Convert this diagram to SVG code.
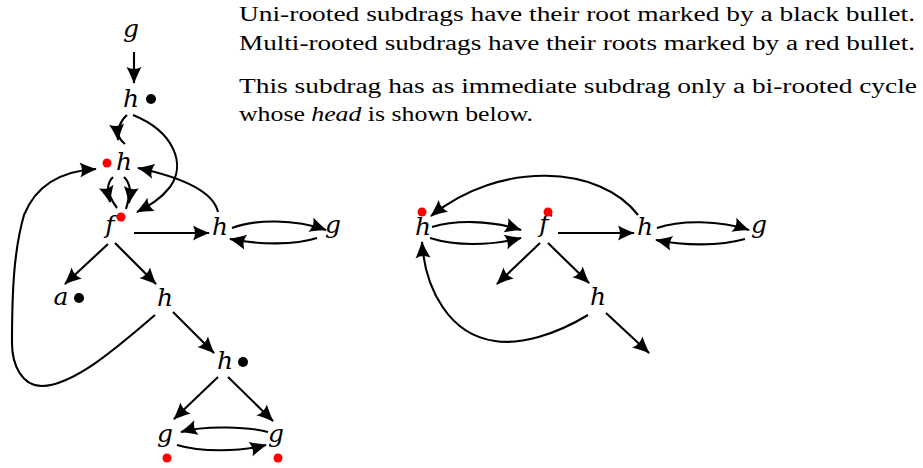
<svg xmlns="http://www.w3.org/2000/svg" width="923" height="468" viewBox="0 0 923 468">
<style>
.lbl{font-family:"DejaVu Serif","Liberation Serif",serif;font-style:italic;font-size:25px;text-anchor:middle;fill:#000}
.txt{font-family:"Liberation Serif","DejaVu Serif",serif;font-size:20px;fill:#000}
.e{fill:none;stroke:#000;stroke-width:2.1}
.ea{fill:none;stroke:#000;stroke-width:2.1;marker-end:url(#arr)}
.bd{fill:#000}
.rd{fill:#ff0000}
</style>
<defs>
<marker id="arr" markerUnits="userSpaceOnUse" viewBox="-18 -9 20 18" markerWidth="20" markerHeight="18" refX="0" refY="0" orient="auto" overflow="visible">
<path d="M1,0 C-3.5,-1.6 -9.5,-4 -16,-7.5 Q-12,0 -16,7.5 C-9.5,4 -3.5,1.6 1,0 Z" fill="#000"/>
</marker>
</defs>

<g id="caption">
<text class="txt" x="239" y="21" textLength="676" lengthAdjust="spacingAndGlyphs">Uni-rooted subdrags have their root marked by a black bullet.</text>
<text class="txt" x="239" y="50" textLength="676" lengthAdjust="spacingAndGlyphs">Multi-rooted subdrags have their roots marked by a red bullet.</text>
<text class="txt" x="239" y="93" textLength="678" lengthAdjust="spacingAndGlyphs">This subdrag has as immediate subdrag only a bi-rooted cycle</text>
<text class="txt" x="239" y="121" textLength="294" lengthAdjust="spacingAndGlyphs">whose <tspan font-style="italic">head</tspan> is shown below.</text>
</g>

<g id="connectors">
<path class="ea" d="M134,52 L134,83"/>
<path class="ea" d="M127,115 C120,121 117,128 118,140"/>
<path class="e" d="M118,133 C119,138 121,141 125,144"/>
<path class="ea" d="M133,115 C175,132 186,165 170,187 C160,200 148,206 137,212"/>
<path class="ea" d="M113,177 C107,183 107,190 110,202"/>
<path class="e" d="M110,196 C112,201 114,204 117,208"/>
<path class="ea" d="M124,177 C130,183 131,190 129,203"/>
<path class="e" d="M129,196 C128,202 127,206 126,209"/>
<path class="ea" d="M218,212 C213,190 180,177 138,168"/>
<path class="ea" d="M134,233 L209,233"/>
<path class="ea" d="M232,228 C255,219 295,219 326,230"/>
<path class="ea" d="M317,238 C295,245 260,245 230,239"/>
<path class="ea" d="M108,244 L65,284"/>
<path class="ea" d="M115,243 L156,284"/>
<path class="ea" d="M173,312 L214,353"/>
<path class="ea" d="M155,315 C120,345 75,385 42,386 C22,386 12,365 12,343 C12,290 14,250 24,215 C36,185 60,171 96,169"/>
<path class="ea" d="M218,377 L174,419"/>
<path class="ea" d="M228,377 L273,421"/>
<path class="ea" d="M268,432 C250,427 205,425 181,432"/>
<path class="ea" d="M177,445 C200,452 240,452 266,445"/>
<path class="ea" d="M432,227 C455,220 490,220 521,230"/>
<path class="ea" d="M430,238 C455,246 490,246 521,238"/>
<path class="ea" d="M558,233 L634,233"/>
<path class="ea" d="M657,228 C680,220 720,220 749,230"/>
<path class="ea" d="M745,239 C720,246 685,246 656,240"/>
<path class="ea" d="M638,215 C600,165 500,160 431,216"/>
<path class="ea" d="M540,243 L497,284"/>
<path class="ea" d="M548,243 L589,283"/>
<path class="ea" d="M606,313 L649,353"/>
<path class="ea" d="M588,315 C555,335 520,345 495,341 C450,335 425,290 422,242"/>
</g>

<g id="n-g1"><text class="lbl" x="131" y="37">g</text></g>
<g id="n-h1"><text class="lbl" x="131" y="107">h</text><circle class="bd" cx="151" cy="99" r="5"/></g>
<g id="n-h2"><text class="lbl" x="124" y="170">h</text><circle class="rd" cx="107" cy="163" r="4.5"/></g>
<g id="n-f"><text class="lbl" x="110" y="233">f</text><circle class="rd" cx="121" cy="217" r="4.5"/></g>
<g id="n-h3"><text class="lbl" x="220" y="235">h</text></g>
<g id="n-g2"><text class="lbl" x="333" y="233">g</text></g>
<g id="n-a"><text class="lbl" x="61" y="305">a</text><circle class="bd" cx="79" cy="298" r="5"/></g>
<g id="n-h4"><text class="lbl" x="165" y="306">h</text></g>
<g id="n-h5"><text class="lbl" x="225" y="369">h</text><circle class="bd" cx="243" cy="362" r="5"/></g>
<g id="n-g3"><text class="lbl" x="165" y="442">g</text><circle class="rd" cx="167" cy="458" r="4.5"/></g>
<g id="n-g4"><text class="lbl" x="276" y="442">g</text><circle class="rd" cx="278" cy="458" r="4.5"/></g>
<g id="r-ha"><text class="lbl" x="423" y="235">h</text><circle class="rd" cx="422" cy="212" r="4.5"/></g>
<g id="r-f"><text class="lbl" x="544" y="232">f</text><circle class="rd" cx="548" cy="212" r="4.5"/></g>
<g id="r-hb"><text class="lbl" x="645" y="235">h</text></g>
<g id="r-g"><text class="lbl" x="759" y="233">g</text></g>
<g id="r-hc"><text class="lbl" x="598" y="305">h</text></g>
</svg>
